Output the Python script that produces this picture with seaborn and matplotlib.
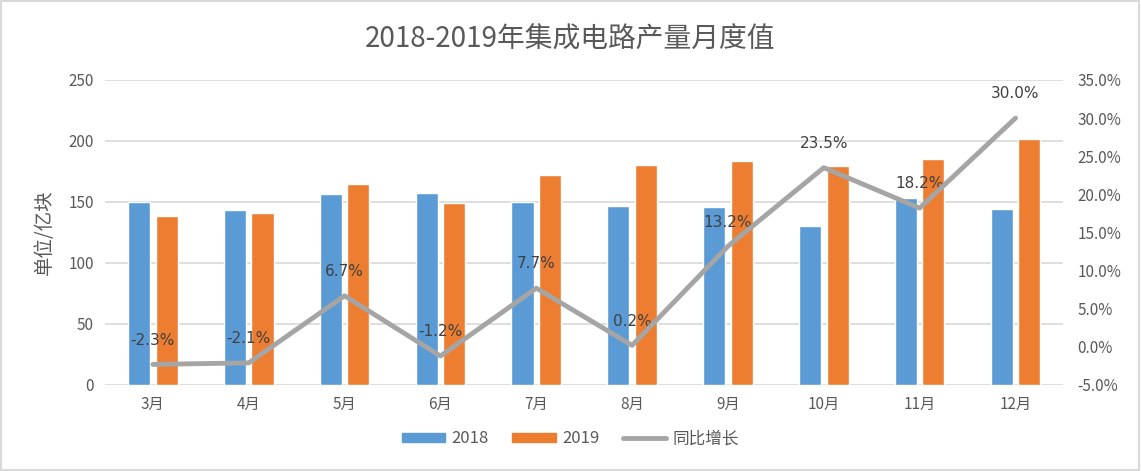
import numpy as np
import pandas as pd
import matplotlib
matplotlib.use("Agg")
import matplotlib.pyplot as plt
import seaborn as sns
from matplotlib.patches import Patch, Rectangle
from matplotlib.lines import Line2D

months = ["3月", "4月", "5月", "6月", "7月", "8月", "9月", "10月", "11月", "12月"]
y2018 = [149.7, 143.4, 156.3, 157.1, 149.7, 146.7, 145.9, 130.0, 153.3, 144.3]
y2019 = [138.8, 141.0, 165.0, 149.2, 172.1, 180.0, 183.3, 179.5, 185.5, 201.6]
growth = [-2.3, -2.1, 6.7, -1.2, 7.7, 0.2, 13.2, 23.5, 18.2, 30.0]
series_names = ["2018", "2019"]
line_name = "同比增长"
title = "2018-2019年集成电路产量月度值"
ylabel = "单位/亿块"
left_ticks = [0, 50, 100, 150, 200, 250]
right_ticks = [-5, 0, 5, 10, 15, 20, 25, 30, 35]

sns.set_theme(style="white")
plt.rcParams['font.family'] = ['Noto Sans CJK SC', 'DejaVu Sans']

c_blue = "#5B9BD5"
c_orange = "#ED7D31"
c_gray = "#A5A5A5"
c_text = "#595959"

df = pd.DataFrame({
    "month": months * 2,
    "value": y2018 + y2019,
    "year": [series_names[0]] * len(months) + [series_names[1]] * len(months),
})
dfl = pd.DataFrame({"month": months, "growth": growth})

fig = plt.figure(figsize=(11.41, 4.71), dpi=100)
ax = fig.add_axes([0.092, 0.1826, 0.840, 0.6476])

sns.barplot(data=df, x="month", y="value", hue="year", order=months,
            palette=[c_blue, c_orange], width=0.575, gap=0.2, ax=ax,
            saturation=1, legend=False, zorder=3)
ax.set_ylim(0, 250)
ax.set_yticks(left_ticks)
ax.set_xlim(-0.5, len(months) - 0.5)
ax.grid(axis="y", color="#D9D9D9", linewidth=1.2, zorder=0)
ax.set_axisbelow(True)
for s in ax.spines.values():
    s.set_visible(False)
ax.tick_params(axis="both", length=0, labelsize=11, labelcolor=c_text, pad=8)
ax.set_xlabel("")
ax.set_ylabel(ylabel, fontsize=14, color=c_text, labelpad=10)

ax2 = ax.twinx()
sns.lineplot(data=dfl, x="month", y="growth", sort=False, color=c_gray,
             linewidth=3.5, ax=ax2, zorder=4)
ax2.set_ylim(-5, 35)
ax2.set_yticks(right_ticks)
ax2.set_yticklabels([f"{t:.1f}%" for t in right_ticks])
ax2.set_xlim(-0.5, len(months) - 0.5)
for s in ax2.spines.values():
    s.set_visible(False)
ax2.tick_params(axis="y", length=0, labelsize=11, labelcolor=c_text, pad=10)
ax2.set_ylabel("")
ax2.set_xlabel("")
for i, g in enumerate(growth):
    ax2.annotate(f"{g:.1f}%", (i, g), xytext=(0, 12), textcoords="offset points",
                 ha="center", va="bottom", fontsize=11, color="#404040",
                 family=['DejaVu Sans'])

fig.suptitle(title, y=0.948, fontsize=20, color=c_text)

handles = [Patch(color=c_blue, label=series_names[0]),
           Patch(color=c_orange, label=series_names[1]),
           Line2D([0], [0], color=c_gray, linewidth=3.5, label=line_name)]
fig.legend(handles=handles, loc="center", bbox_to_anchor=(0.5, 0.068), ncol=3,
           frameon=False, fontsize=12, labelcolor=c_text, handlelength=2.6,
           handleheight=0.45, columnspacing=1.4, handletextpad=0.4)

fig.add_artist(Rectangle((0.001, 0.002), 0.997, 0.995, transform=fig.transFigure,
                         fill=False, edgecolor="#D9D9D9", linewidth=1.5))

fig.savefig("out.png", dpi=100)
